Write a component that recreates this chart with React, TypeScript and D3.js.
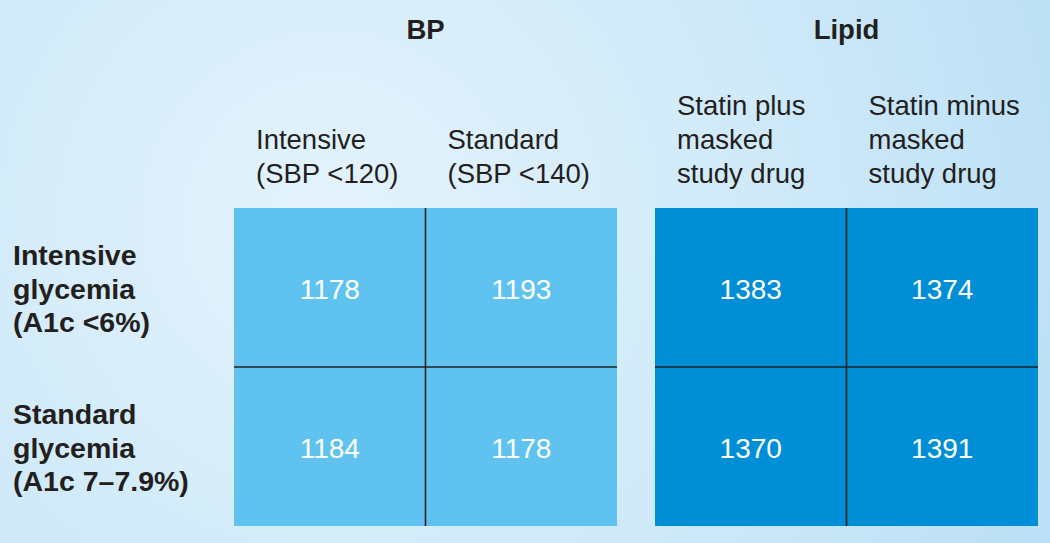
import React from "react";
import * as d3 from "d3";

const W = 1050;
const H = 543;

const rowLabels: string[][] = [
  ["Intensive", "glycemia", "(A1c <6%)"],
  ["Standard", "glycemia", "(A1c 7\u20137.9%)"],
];
const rowKeys = ["intensive", "standard"];

const bpTitle = "BP";
const bpColumns = ["bpIntensive", "bpStandard"];
const bpColumnLabels: string[][] = [
  ["Intensive", "(SBP <120)"],
  ["Standard", "(SBP <140)"],
];
const bpValues: number[][] = [
  [1178, 1193],
  [1184, 1178],
];

const lipidTitle = "Lipid";
const lipidColumns = ["statinPlus", "statinMinus"];
const lipidColumnLabels: string[][] = [
  ["Statin plus", "masked", "study drug"],
  ["Statin minus", "masked", "study drug"],
];
const lipidValues: number[][] = [
  [1383, 1374],
  [1370, 1391],
];

const FONT = "'Liberation Sans', Arial, Helvetica, sans-serif";

type BlockProps = {
  title: string;
  columns: string[];
  columnLabels: string[][];
  values: number[][];
  x0: number;
  x1: number;
  fill: string;
  y: d3.ScaleBand<string>;
};

function Block({ title, columns, columnLabels, values, x0, x1, fill, y }: BlockProps) {
  const x = d3.scaleBand<string>().domain(columns).range([x0, x1]).padding(0);
  const top = y.range()[0];
  const bottom = y.range()[1];
  const lineH = 34;
  const lastBaseline = 183;
  return (
    <g>
      <text
        x={(x0 + x1) / 2}
        y={39}
        textAnchor="middle"
        fontFamily={FONT}
        fontWeight="bold"
        fontSize={27.5}
        fill="#231f20"
      >
        {title}
      </text>
      {columns.map((c, ci) => {
        const lines = columnLabels[ci];
        return (
          <text
            key={c}
            x={(x(c) as number) + 22}
            fontFamily={FONT}
            fontSize={27.5}
            fill="#231f20"
          >
            {lines.map((l, li) => (
              <tspan
                key={li}
                x={(x(c) as number) + 22}
                y={lastBaseline - (lines.length - 1 - li) * lineH}
              >
                {l}
              </tspan>
            ))}
          </text>
        );
      })}
      <rect x={x0} y={top} width={x1 - x0} height={bottom - top} fill={fill} />
      {rowKeys.map((r, ri) =>
        columns.map((c, ci) => (
          <text
            key={r + c}
            x={(x(c) as number) + x.bandwidth() / 2}
            y={(y(r) as number) + y.bandwidth() / 2 + 11}
            textAnchor="middle"
            fontFamily={FONT}
            fontSize={28}
            fill="#ffffff"
          >
            {values[ri][ci]}
          </text>
        ))
      )}
      {columns.slice(1).map((c) => (
        <line
          key={"v" + c}
          x1={x(c) as number}
          x2={x(c) as number}
          y1={top}
          y2={bottom}
          stroke="#231f20"
          strokeWidth={1.6}
        />
      ))}
      {rowKeys.slice(1).map((r) => (
        <line
          key={"h" + r}
          x1={x0}
          x2={x1}
          y1={y(r) as number}
          y2={y(r) as number}
          stroke="#231f20"
          strokeWidth={1.6}
        />
      ))}
    </g>
  );
}

export default function App() {
  const y = d3.scaleBand<string>().domain(rowKeys).range([208, 526]).padding(0);
  return (
    <svg
      width={W}
      height={H}
      style={{ position: "absolute", left: 0, top: 0, display: "block" }}
    >
      <defs>
        <radialGradient id="bg" cx="330" cy="220" r="760" gradientUnits="userSpaceOnUse">
          <stop offset="0" stopColor="#e4f3fc" />
          <stop offset="0.55" stopColor="#d0eaf9" />
          <stop offset="1" stopColor="#bde0f6" />
        </radialGradient>
      </defs>
      <rect x={0} y={0} width={W} height={H} fill="url(#bg)" />
      {rowKeys.map((r, ri) => {
        const lines = rowLabels[ri];
        const mid = (y(r) as number) + y.bandwidth() / 2 + 11;
        return (
          <text key={r} fontFamily={FONT} fontWeight="bold" fontSize={28.5} fill="#231f20">
            {lines.map((l, li) => (
              <tspan key={li} x={13} y={mid + (li - 1) * 33.5}>
                {l}
              </tspan>
            ))}
          </text>
        );
      })}
      <Block
        title={bpTitle}
        columns={bpColumns}
        columnLabels={bpColumnLabels}
        values={bpValues}
        x0={234}
        x1={617}
        fill="#60c3ef"
        y={y}
      />
      <Block
        title={lipidTitle}
        columns={lipidColumns}
        columnLabels={lipidColumnLabels}
        values={lipidValues}
        x0={655}
        x1={1038}
        fill="#008fd6"
        y={y}
      />
    </svg>
  );
}
